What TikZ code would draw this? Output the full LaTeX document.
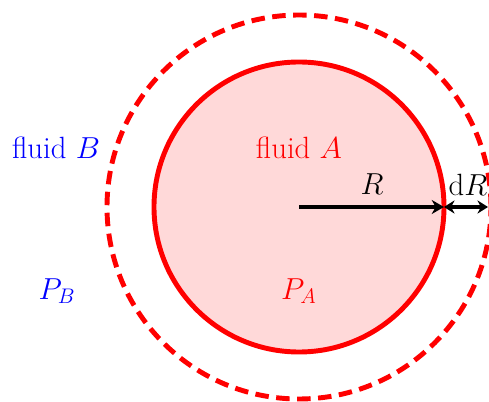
\documentclass[tikz,border=0pt]{standalone}
\usetikzlibrary{arrows.meta}

\begin{document}
\begin{tikzpicture}[line cap=butt, >=Stealth]
\tikzset{wall/.style={red, line width=2.8pt},
  bubble/.style={wall, fill=red!15},
  grown/.style={wall, dash pattern=on 0.27cm off 0.15cm},
  radius arrow/.style={line width=2.6pt, -{Stealth[length=7pt,width=8pt]}},
  growth arrow/.style={line width=2pt, {Stealth[length=6pt,width=7.5pt]}-{Stealth[length=6pt,width=7.5pt]}},
  lbl/.style={font=\fontsize{17.5}{21}\selectfont, inner sep=0pt}}

\useasboundingbox (0,0) rectangle (9.78,8.02);

% geometry (cm)
\coordinate (O)  at (5.98,3.88);
\coordinate (Rin) at (8.88,3.88);
\coordinate (Rout) at (9.76,3.88);

% circles
\fill[white] (0,0) rectangle (9.78,8.02);
\draw[bubble] (O) circle (2.9);
\draw[grown] (O) circle (3.84);

% radius arrows
\draw[radius arrow] (O) -- (Rin);
\draw[growth arrow] (Rin) -- (Rout);

% labels
\node[lbl, red]  (fA) at (5.98,5.07) {fluid $A$};
\node[lbl, blue] (fB) at (1.12,5.07) {fluid $B$};
\node[lbl, red]  (pA) at (5.98,2.20) {$P_A$};
\node[lbl, blue] (pB) at (1.14,2.20) {$P_B$};
\node[lbl] (lR)  at (7.44,4.33) {$R$};
\node[lbl] (ldR) at (9.36,4.33) {d$R$};
\end{tikzpicture}
\end{document}
